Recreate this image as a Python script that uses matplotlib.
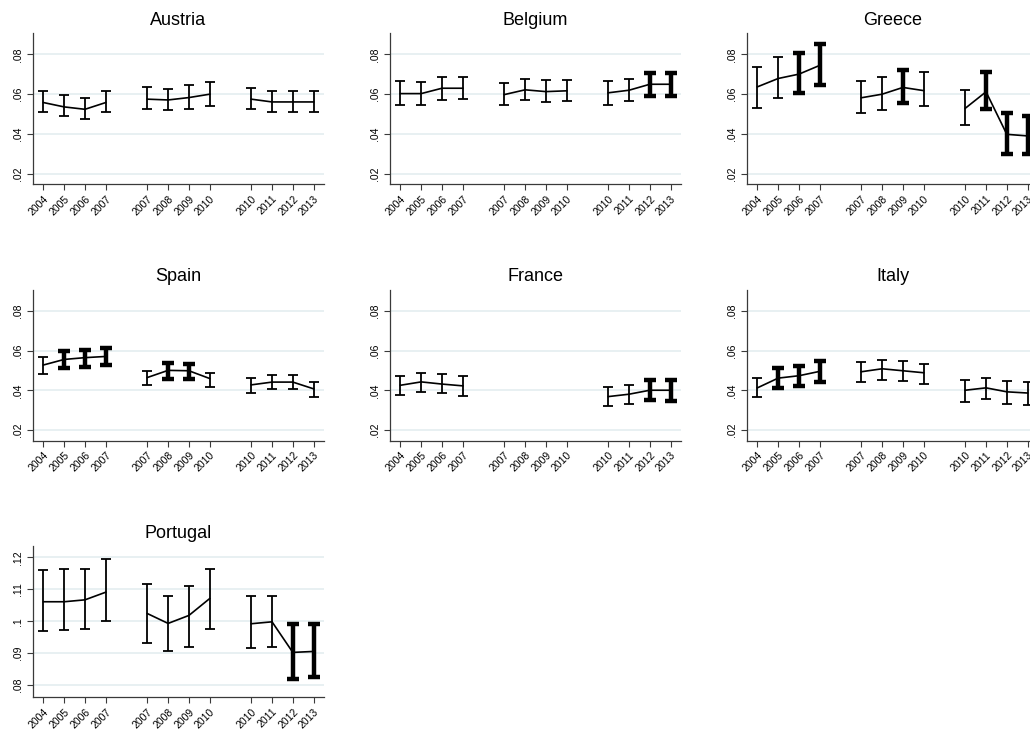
import matplotlib.pyplot as plt
import numpy as np

plt.rcParams["font.family"] = ["Liberation Sans", "DejaVu Sans"]

# tick labels: three 4-year windows
year_labels = ["2004", "2005", "2006", "2007",
               "2007", "2008", "2009", "2010",
               "2010", "2011", "2012", "2013"]

# point estimates, lower and upper CI, and whether the bar is drawn bold
austria_mean = [0.0558, 0.0536, 0.0524, 0.0558, 0.0575, 0.0571, 0.0583, 0.0600, 0.0575, 0.0561, 0.0561, 0.0561]
austria_lo = [0.0508, 0.0489, 0.0477, 0.0509, 0.0523, 0.0519, 0.0528, 0.0543, 0.0523, 0.0511, 0.0511, 0.0511]
austria_hi = [0.0615, 0.0595, 0.0583, 0.0618, 0.0635, 0.0627, 0.0644, 0.0662, 0.0629, 0.0617, 0.0617, 0.0617]
austria_bold = [0, 0, 0, 0, 0, 0, 0, 0, 0, 0, 0, 0]

belgium_mean = [0.0603, 0.0603, 0.0630, 0.0630, 0.0598, 0.0622, 0.0613, 0.0617, 0.0607, 0.0620, 0.0650, 0.0650]
belgium_lo = [0.0548, 0.0548, 0.0573, 0.0575, 0.0546, 0.0570, 0.0560, 0.0565, 0.0548, 0.0565, 0.0592, 0.0592]
belgium_hi = [0.0664, 0.0659, 0.0687, 0.0687, 0.0655, 0.0677, 0.0671, 0.0671, 0.0664, 0.0674, 0.0706, 0.0706]
belgium_bold = [0, 0, 0, 0, 0, 0, 0, 0, 0, 0, 1, 1]

greece_mean = [0.0637, 0.0679, 0.0701, 0.0745, 0.0582, 0.0600, 0.0634, 0.0618, 0.0529, 0.0612, 0.0398, 0.0390]
greece_lo = [0.0533, 0.0582, 0.0607, 0.0647, 0.0506, 0.0518, 0.0556, 0.0541, 0.0445, 0.0528, 0.0297, 0.0297]
greece_hi = [0.0736, 0.0785, 0.0805, 0.0854, 0.0667, 0.0687, 0.0721, 0.0711, 0.0622, 0.0714, 0.0503, 0.0491]
greece_bold = [0, 0, 1, 1, 0, 0, 1, 0, 0, 1, 1, 1]

spain_mean = [0.0528, 0.0556, 0.0565, 0.0571, 0.0465, 0.0501, 0.0499, 0.0460, 0.0428, 0.0442, 0.0442, 0.0408]
spain_lo = [0.0485, 0.0511, 0.0519, 0.0526, 0.0425, 0.0460, 0.0458, 0.0415, 0.0389, 0.0408, 0.0405, 0.0367]
spain_hi = [0.0566, 0.0597, 0.0605, 0.0612, 0.0497, 0.0538, 0.0533, 0.0489, 0.0464, 0.0480, 0.0480, 0.0443]
spain_bold = [0, 1, 1, 1, 0, 1, 1, 0, 0, 0, 0, 0]

nan = float("nan")
france_mean = [0.0426, 0.0443, 0.0432, 0.0423, nan, nan, nan, nan, 0.0369, 0.0381, 0.0401, 0.0401]
france_lo = [0.0376, 0.0393, 0.0386, 0.0374, nan, nan, nan, nan, 0.0322, 0.0334, 0.0351, 0.0347]
france_hi = [0.0472, 0.0489, 0.0484, 0.0474, nan, nan, nan, nan, 0.0415, 0.0426, 0.0450, 0.0450]
france_bold = [0, 0, 0, 0, 0, 0, 0, 0, 0, 0, 1, 1]

italy_mean = [0.0413, 0.0462, 0.0474, 0.0496, 0.0494, 0.0509, 0.0499, 0.0489, 0.0401, 0.0413, 0.0393, 0.0387]
italy_lo = [0.0366, 0.0410, 0.0421, 0.0442, 0.0440, 0.0455, 0.0445, 0.0431, 0.0344, 0.0357, 0.0334, 0.0329]
italy_hi = [0.0464, 0.0511, 0.0524, 0.0548, 0.0541, 0.0551, 0.0549, 0.0534, 0.0452, 0.0465, 0.0448, 0.0440]
italy_bold = [0, 1, 1, 1, 0, 0, 0, 0, 0, 0, 0, 0]

portugal_mean = [0.1061, 0.1061, 0.1067, 0.1091, 0.1024, 0.0993, 0.1018, 0.1071, 0.0992, 0.0998, 0.0902, 0.0905]
portugal_lo = [0.0968, 0.0973, 0.0977, 0.1002, 0.0933, 0.0905, 0.0919, 0.0975, 0.0915, 0.0919, 0.0820, 0.0824]
portugal_hi = [0.1160, 0.1163, 0.1163, 0.1194, 0.1116, 0.1080, 0.1109, 0.1163, 0.1080, 0.1080, 0.0990, 0.0990]
portugal_bold = [0, 0, 0, 0, 0, 0, 0, 0, 0, 0, 1, 1]

std_yticks = [0.02, 0.04, 0.06, 0.08]
portugal_yticks = [0.08, 0.09, 0.10, 0.11, 0.12]

panels = [
    ("Austria", austria_mean, austria_lo, austria_hi, austria_bold, std_yticks),
    ("Belgium", belgium_mean, belgium_lo, belgium_hi, belgium_bold, std_yticks),
    ("Greece", greece_mean, greece_lo, greece_hi, greece_bold, std_yticks),
    ("Spain", spain_mean, spain_lo, spain_hi, spain_bold, std_yticks),
    ("France", france_mean, france_lo, france_hi, france_bold, std_yticks),
    ("Italy", italy_mean, italy_lo, italy_hi, italy_bold, std_yticks),
    ("Portugal", portugal_mean, portugal_lo, portugal_hi, portugal_bold, portugal_yticks),
]

# x positions: 4 years per window, one empty slot between windows
x = np.array([g * 5 + k for g in range(3) for k in range(4)])

W, H = 1030, 729
fig = plt.figure(figsize=(W / 100, H / 100), dpi=100)
fig.patch.set_facecolor("white")

axis_col = "#3a3a3a"

for i, (name, mean, lo, hi, bold, yticks) in enumerate(panels):
    row, col = divmod(i, 3)
    left = 33 + 357 * col
    top = 33 + 256.5 * row
    ax = fig.add_axes([left / W, 1 - (top + 151) / H, 291 / W, 151 / H])

    mean = np.array(mean, float)
    lo = np.array(lo, float)
    hi = np.array(hi, float)
    bold = np.array(bold, bool)

    for g in range(3):
        s = slice(4 * g, 4 * g + 4)
        ax.plot(x[s], mean[s], color="black", lw=1.2, zorder=3)

    ok = ~np.isnan(mean)
    for flag, lw, cs in [(False, 1.3, 3.4), (True, 3.2, 4.2)]:
        m = (bold == flag) & ok
        if m.any():
            ax.errorbar(x[m], mean[m], yerr=[mean[m] - lo[m], hi[m] - mean[m]],
                        fmt="none", ecolor="black", elinewidth=lw,
                        capsize=cs, capthick=lw, zorder=4)

    ax.set_xlim(-0.5, 13.5)
    if name == "Portugal":
        ax.set_ylim(0.0762, 0.1236)
    else:
        ax.set_ylim(0.0148, 0.0908)

    ax.set_xticks(x)
    ax.set_xticklabels(year_labels, rotation=45, ha="right", va="top",
                       rotation_mode="anchor", fontsize=7.5)
    ax.set_yticks(yticks)
    ax.set_yticklabels([("%g" % t).lstrip("0") for t in yticks],
                       rotation=90, va="center", fontsize=7.5)

    ax.yaxis.grid(True, color="#e6eff1", lw=1.3)
    ax.set_axisbelow(True)
    for side in ["top", "right"]:
        ax.spines[side].set_visible(False)
    for side in ["left", "bottom"]:
        ax.spines[side].set_color(axis_col)
        ax.spines[side].set_linewidth(0.9)
    ax.tick_params(axis="both", direction="out", length=4, width=0.8,
                   color=axis_col, pad=3)
    ax.tick_params(axis="y", pad=3)
    ax.set_title(name, fontsize=13, pad=6)

plt.savefig("out.png", dpi=100)
plt.close()
